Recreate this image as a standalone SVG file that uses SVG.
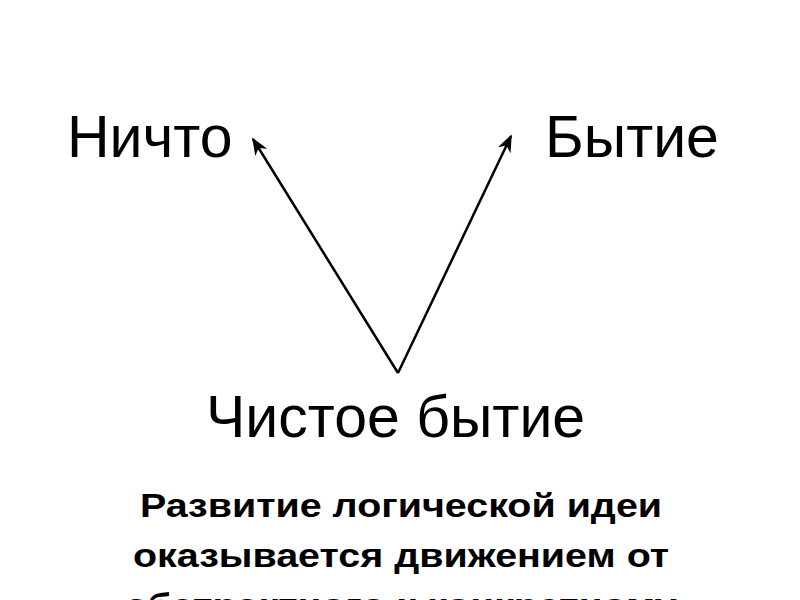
<svg xmlns="http://www.w3.org/2000/svg" width="800" height="600" viewBox="0 0 800 600">
<defs>
<style>
.lbl{font-family:"Liberation Sans",Arial,sans-serif;font-size:59px;fill:#000}
.cap{font-family:"Liberation Sans",Arial,sans-serif;font-size:34px;font-weight:bold;fill:#000;text-anchor:middle}
.arr{stroke:#000;stroke-width:2.5;fill:none;marker-end:url(#ah)}
</style>
<marker id="ah" viewBox="0 0 10 10" refX="9" refY="5" markerWidth="7" markerHeight="7" orient="auto" markerUnits="strokeWidth">
<path d="M0,1 L10,5 L0,9 L3,5 Z" fill="#000"/>
</marker>
</defs>
<rect width="800" height="600" fill="#fff"/>
<g id="connectors">
<line class="arr" x1="398" y1="373" x2="253" y2="139"/>
<line class="arr" x1="398" y1="373" x2="511" y2="136"/>
</g>
<g id="nichto"><text class="lbl" x="67" y="157">Ничто</text></g>
<g id="bytie"><text class="lbl" x="545" y="157">Бытие</text></g>
<g id="chistoe"><text class="lbl" x="206" y="437">Чистое бытие</text></g>
<g id="caption" transform="translate(401,0) scale(1.16,1) translate(-401,0)">
<text class="cap" x="401" y="517">Развитие логической идеи</text>
<text class="cap" x="401" y="567">оказывается движением от</text>
<text class="cap" x="401" y="617">абстрактного к конкретному</text>
</g>
</svg>
